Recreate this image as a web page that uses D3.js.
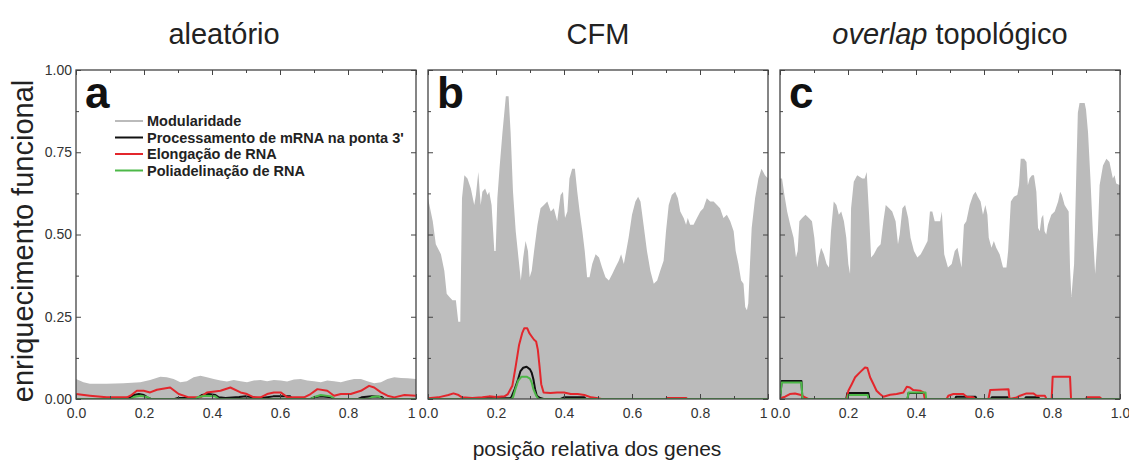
<!DOCTYPE html>
<meta charset="utf-8">
<script src="https://d3js.org/d3.v7.min.js"></script>
<style>
  body { margin: 0; background: #fff; }
  text { font-family: "Liberation Sans", Arial, sans-serif; }
</style>
<div id="chart"></div>
<script>
// values: [posição relativa, enriquecimento]
const panelTitles = ["aleatório", "CFM", "overlap topológico"];
const panelLetters = ["a", "b", "c"];
const seriesNames = ["Modularidade", "Processamento de mRNA na ponta 3'", "Elongação de RNA", "Poliadelinação de RNA"];
const seriesColors = ["#bbbbbb", "#111111", "#e3262c", "#4db848"];
const xMajor = [0, 0.2, 0.4, 0.6, 0.8, 1];
const xMinor = [0.1, 0.3, 0.5, 0.7, 0.9];
const yMajor = [0, 0.25, 0.5, 0.75, 1];
const yMinor = [0.125, 0.375, 0.625, 0.875];

// a - aleatório
const randModularidade = [[0,0.061],[0.022,0.051],[0.041,0.046],[0.09,0.046],[0.14,0.048],[0.189,0.051],[0.218,0.058],[0.248,0.068],[0.267,0.066],[0.287,0.061],[0.307,0.051],[0.326,0.054],[0.346,0.066],[0.366,0.071],[0.385,0.066],[0.405,0.061],[0.425,0.056],[0.444,0.053],[0.464,0.058],[0.484,0.054],[0.503,0.051],[0.523,0.056],[0.543,0.058],[0.562,0.054],[0.582,0.058],[0.602,0.056],[0.621,0.053],[0.641,0.059],[0.661,0.061],[0.68,0.056],[0.7,0.054],[0.72,0.051],[0.739,0.056],[0.759,0.054],[0.779,0.051],[0.798,0.056],[0.818,0.061],[0.838,0.061],[0.857,0.054],[0.877,0.048],[0.897,0.051],[0.916,0.061],[0.936,0.066],[0.956,0.064],[0.975,0.063],[1,0.061]];
const randProcessamento = [[0,0],[0.15,0],[0.16,0.005],[0.17,0.012],[0.185,0.015],[0.2,0.012],[0.21,0.005],[0.22,0],[0.29,0],[0.3,0.003],[0.34,0.003],[0.35,0],[0.36,0.005],[0.37,0.012],[0.39,0.015],[0.41,0.012],[0.42,0.005],[0.44,0.003],[0.48,0.006],[0.5,0.008],[0.52,0.005],[0.54,0.002],[0.58,0.008],[0.63,0.008],[0.635,0],[0.69,0],[0.7,0.005],[0.72,0.008],[0.75,0.005],[0.76,0],[0.83,0],[0.84,0.005],[0.87,0.008],[0.9,0.006],[0.905,0],[1,0]];
const randElongacao = [[0,0.015],[0.041,0.01],[0.09,0.005],[0.15,0.005],[0.16,0.01],[0.179,0.025],[0.199,0.025],[0.218,0.02],[0.238,0.028],[0.277,0.035],[0.302,0.015],[0.332,0.005],[0.366,0.005],[0.385,0.02],[0.425,0.025],[0.454,0.035],[0.484,0.02],[0.503,0.015],[0.523,0.005],[0.543,0.005],[0.562,0.015],[0.582,0.02],[0.602,0.02],[0.622,0.005],[0.671,0.005],[0.69,0.015],[0.71,0.03],[0.739,0.025],[0.759,0.01],[0.779,0.015],[0.808,0.015],[0.838,0.025],[0.862,0.04],[0.877,0.035],[0.897,0.02],[0.916,0.01],[0.936,0.005],[0.966,0.012],[1,0.01]];
const randPoliadenilacao = [[0,0],[0.16,0],[0.17,0.006],[0.19,0.01],[0.21,0.006],[0.22,0],[0.35,0],[0.36,0.006],[0.38,0.01],[0.41,0.008],[0.42,0],[0.69,0],[0.7,0.006],[0.72,0.012],[0.75,0.008],[0.76,0],[0.86,0],[0.87,0.006],[0.89,0.008],[0.9,0],[1,0]];

// b - CFM
const cfmModularidade = [[0,0.61],[0.014,0.54],[0.023,0.47],[0.038,0.44],[0.048,0.39],[0.055,0.32],[0.063,0.31],[0.072,0.3],[0.082,0.3],[0.089,0.235],[0.095,0.235],[0.1,0.61],[0.107,0.68],[0.116,0.67],[0.126,0.64],[0.136,0.59],[0.141,0.62],[0.148,0.69],[0.155,0.59],[0.16,0.63],[0.168,0.64],[0.175,0.62],[0.18,0.63],[0.187,0.59],[0.195,0.45],[0.199,0.45],[0.204,0.61],[0.211,0.71],[0.219,0.81],[0.229,0.92],[0.237,0.92],[0.243,0.81],[0.25,0.63],[0.258,0.51],[0.268,0.41],[0.273,0.36],[0.28,0.43],[0.287,0.48],[0.294,0.45],[0.299,0.37],[0.305,0.39],[0.312,0.45],[0.322,0.53],[0.331,0.58],[0.341,0.59],[0.351,0.6],[0.361,0.57],[0.37,0.58],[0.38,0.54],[0.39,0.62],[0.397,0.63],[0.403,0.55],[0.41,0.57],[0.416,0.67],[0.424,0.7],[0.432,0.7],[0.439,0.63],[0.446,0.57],[0.454,0.51],[0.461,0.45],[0.468,0.37],[0.475,0.37],[0.483,0.41],[0.493,0.44],[0.503,0.43],[0.512,0.4],[0.522,0.37],[0.532,0.36],[0.542,0.38],[0.551,0.4],[0.561,0.42],[0.568,0.44],[0.576,0.41],[0.583,0.45],[0.59,0.49],[0.6,0.56],[0.61,0.6],[0.618,0.615],[0.625,0.6],[0.634,0.53],[0.644,0.45],[0.654,0.39],[0.664,0.35],[0.674,0.36],[0.683,0.39],[0.693,0.42],[0.7,0.51],[0.708,0.59],[0.717,0.62],[0.727,0.63],[0.735,0.61],[0.742,0.57],[0.752,0.55],[0.759,0.53],[0.764,0.55],[0.771,0.53],[0.781,0.53],[0.791,0.55],[0.801,0.57],[0.81,0.58],[0.82,0.61],[0.83,0.6],[0.84,0.6],[0.85,0.59],[0.859,0.58],[0.869,0.55],[0.879,0.56],[0.889,0.54],[0.899,0.51],[0.905,0.45],[0.913,0.41],[0.921,0.36],[0.928,0.35],[0.933,0.28],[0.938,0.27],[0.942,0.29],[0.947,0.41],[0.952,0.52],[0.962,0.61],[0.972,0.67],[0.981,0.7],[0.991,0.68],[1,0.67]];
const cfmProcessamento = [[0,0],[0.15,0],[0.16,0.002],[0.24,0.002],[0.245,0.005],[0.255,0.03],[0.265,0.06],[0.272,0.085],[0.28,0.095],[0.29,0.098],[0.3,0.09],[0.305,0.08],[0.31,0.06],[0.315,0.03],[0.32,0.01],[0.33,0.003],[0.34,0],[0.39,0],[0.4,0.005],[0.46,0.005],[0.465,0],[1,0]];
const cfmElongacao = [[0,0.002],[0.03,0.005],[0.06,0.012],[0.075,0.017],[0.09,0.012],[0.1,0.005],[0.13,0.003],[0.16,0.005],[0.18,0.008],[0.2,0.006],[0.225,0.008],[0.235,0.015],[0.248,0.04],[0.258,0.1],[0.268,0.165],[0.277,0.2],[0.283,0.215],[0.292,0.215],[0.298,0.2],[0.305,0.19],[0.312,0.18],[0.318,0.175],[0.323,0.15],[0.328,0.1],[0.333,0.045],[0.34,0.02],[0.36,0.018],[0.38,0.02],[0.4,0.02],[0.42,0.015],[0.44,0.015],[0.46,0.012],[0.48,0.005],[0.5,0.002],[0.51,0],[0.7,0],[0.702,0.003],[0.76,0.003],[0.762,0],[1,0]];
const cfmPoliadenilacao = [[0,0],[0.245,0],[0.25,0.005],[0.257,0.03],[0.265,0.055],[0.275,0.068],[0.29,0.068],[0.3,0.062],[0.305,0.05],[0.31,0.03],[0.318,0.01],[0.325,0],[1,0]];

// c - overlap topológico
const overlapModularidade = [[0,0.67],[0.006,0.67],[0.013,0.62],[0.021,0.57],[0.03,0.53],[0.04,0.49],[0.047,0.43],[0.052,0.45],[0.057,0.54],[0.065,0.55],[0.075,0.56],[0.085,0.55],[0.094,0.54],[0.101,0.49],[0.107,0.42],[0.11,0.4],[0.114,0.43],[0.121,0.46],[0.129,0.44],[0.137,0.41],[0.144,0.4],[0.15,0.51],[0.158,0.6],[0.166,0.59],[0.173,0.56],[0.18,0.57],[0.188,0.54],[0.195,0.49],[0.201,0.41],[0.206,0.38],[0.209,0.58],[0.217,0.66],[0.227,0.68],[0.242,0.67],[0.249,0.67],[0.255,0.69],[0.262,0.56],[0.268,0.43],[0.276,0.44],[0.286,0.46],[0.296,0.47],[0.304,0.54],[0.311,0.59],[0.321,0.58],[0.33,0.57],[0.34,0.54],[0.347,0.47],[0.352,0.5],[0.36,0.58],[0.368,0.59],[0.377,0.55],[0.384,0.49],[0.394,0.45],[0.404,0.43],[0.414,0.44],[0.424,0.46],[0.434,0.48],[0.441,0.57],[0.448,0.57],[0.455,0.54],[0.463,0.54],[0.471,0.54],[0.476,0.57],[0.483,0.44],[0.494,0.4],[0.505,0.41],[0.514,0.45],[0.522,0.46],[0.528,0.43],[0.534,0.4],[0.541,0.53],[0.548,0.54],[0.558,0.59],[0.568,0.62],[0.575,0.63],[0.582,0.615],[0.59,0.6],[0.597,0.56],[0.604,0.59],[0.61,0.56],[0.614,0.49],[0.622,0.46],[0.629,0.48],[0.636,0.46],[0.646,0.44],[0.656,0.4],[0.666,0.4],[0.671,0.45],[0.679,0.6],[0.688,0.615],[0.698,0.62],[0.703,0.65],[0.708,0.73],[0.718,0.73],[0.725,0.72],[0.729,0.65],[0.734,0.67],[0.741,0.68],[0.747,0.68],[0.754,0.63],[0.759,0.52],[0.764,0.51],[0.769,0.55],[0.774,0.56],[0.778,0.51],[0.783,0.5],[0.788,0.53],[0.798,0.56],[0.808,0.57],[0.818,0.6],[0.824,0.63],[0.829,0.62],[0.837,0.59],[0.843,0.58],[0.849,0.57],[0.853,0.4],[0.857,0.31],[0.865,0.41],[0.872,0.71],[0.876,0.87],[0.881,0.9],[0.896,0.9],[0.9,0.88],[0.906,0.81],[0.913,0.67],[0.92,0.51],[0.927,0.38],[0.935,0.51],[0.94,0.65],[0.95,0.71],[0.96,0.73],[0.969,0.72],[0.979,0.67],[0.984,0.68],[0.989,0.655],[1,0.65]];
const overlapProcessamento = [[0,0],[0.005,0.055],[0.063,0.055],[0.066,0],[0.195,0],[0.198,0.018],[0.26,0.018],[0.263,0],[0.375,0],[0.378,0.018],[0.425,0.018],[0.428,0],[0.515,0],[0.518,0.007],[0.575,0.007],[0.578,0],[0.62,0],[0.623,0.005],[0.67,0.005],[0.673,0],[0.72,0],[0.723,0.005],[0.76,0.005],[0.763,0],[1,0]];
const overlapElongacao = [[0,0.002],[0.015,0.007],[0.029,0.015],[0.044,0.017],[0.059,0.013],[0.074,0.005],[0.083,0],[0.196,0],[0.201,0.025],[0.211,0.045],[0.221,0.066],[0.235,0.081],[0.25,0.096],[0.257,0.094],[0.265,0.066],[0.275,0.045],[0.284,0.025],[0.294,0.015],[0.304,0.007],[0.324,0.013],[0.343,0.015],[0.363,0.02],[0.373,0.037],[0.382,0.035],[0.392,0.027],[0.412,0.025],[0.422,0.02],[0.426,0],[0.49,0],[0.495,0.01],[0.51,0.015],[0.539,0.015],[0.549,0.007],[0.569,0.005],[0.574,0],[0.613,0],[0.618,0.027],[0.672,0.03],[0.675,0],[0.696,0.005],[0.706,0.01],[0.725,0.017],[0.745,0.017],[0.755,0.01],[0.779,0.01],[0.784,0],[0.799,0],[0.802,0.068],[0.853,0.068],[0.856,0],[0.9,0],[0.902,0.005],[0.941,0.005],[0.946,0],[1,0]];
const overlapPoliadenilacao = [[0,0],[0.005,0.05],[0.063,0.05],[0.066,0],[0.198,0],[0.2,0.012],[0.258,0.012],[0.26,0],[0.375,0],[0.378,0.02],[0.428,0.02],[0.43,0],[1,0]];

const panels = [
  { mod: randModularidade, lines: [randProcessamento, randElongacao, randPoliadenilacao], last: "1" },
  { mod: cfmModularidade, lines: [cfmProcessamento, cfmElongacao, cfmPoliadenilacao], last: "1" },
  { mod: overlapModularidade, lines: [overlapProcessamento, overlapElongacao, overlapPoliadenilacao], last: "1.0" }
];

var W = 1129, H = 464,
    plotW = 340, gap = 12, left0 = 76,
    plotTop = 70, plotBottom = 399;

var svg = d3.select("#chart").append("svg")
    .attr("width", W)
    .attr("height", H);

var y = d3.scaleLinear().domain([0, 1]).range([plotBottom, plotTop]);

function styleLabels(sel) {
    sel.selectAll("text").attr("font-size", 14).attr("fill", "#333")
        .style("font-family", "'Liberation Sans', Arial, sans-serif");
}

panels.forEach(function (p, i) {
    var x0 = left0 + i * (plotW + gap);
    var x = d3.scaleLinear().domain([0, 1]).range([x0, x0 + plotW]);

    svg.append("clipPath").attr("id", "clip" + i)
      .append("rect").attr("x", x0).attr("y", plotTop).attr("width", plotW).attr("height", plotBottom - plotTop);

    var g = svg.append("g").attr("clip-path", "url(#clip" + i + ")");

    g.append("path")
        .datum(p.mod)
        .attr("fill", seriesColors[0])
        .attr("d", d3.area().x(d => x(d[0])).y0(y(0)).y1(d => y(d[1])));

    // black, red, then green on top
    p.lines.forEach(function (s, k) {
        g.append("path")
            .datum(s)
            .attr("fill", "none")
            .attr("stroke", seriesColors[k + 1])
            .attr("stroke-width", 2)
            .attr("stroke-linejoin", "round")
            .attr("d", d3.line().x(d => x(d[0])).y(d => y(d[1])));
    });

    // mirrored inward ticks
    var fmt = function (d) { return d === 1 ? p.last : d3.format(".1f")(d); };
    var bx = svg.append("g").attr("transform", "translate(0," + plotBottom + ")")
        .call(d3.axisBottom(x).tickValues(xMajor).tickSize(-5).tickPadding(9).tickFormat(fmt));
    styleLabels(bx);
    if (p.last === "1") bx.selectAll(".tick").filter(d => d === 1).select("text").attr("text-anchor", "end").attr("dx", -1);
    svg.append("g").attr("transform", "translate(0," + plotBottom + ")")
        .call(d3.axisBottom(x).tickValues(xMinor).tickSize(-3).tickFormat(""));
    svg.append("g").attr("transform", "translate(0," + plotTop + ")")
        .call(d3.axisTop(x).tickValues(xMajor).tickSize(-5).tickFormat(""));
    svg.append("g").attr("transform", "translate(0," + plotTop + ")")
        .call(d3.axisTop(x).tickValues(xMinor).tickSize(-3).tickFormat(""));

    var ly = svg.append("g").attr("transform", "translate(" + x0 + ",0)")
        .call(d3.axisLeft(y).tickValues(yMajor).tickSize(-5).tickPadding(4).tickFormat(i === 0 ? d3.format(".2f") : ""));
    styleLabels(ly);
    svg.append("g").attr("transform", "translate(" + x0 + ",0)")
        .call(d3.axisLeft(y).tickValues(yMinor).tickSize(-3).tickFormat(""));
    svg.append("g").attr("transform", "translate(" + (x0 + plotW) + ",0)")
        .call(d3.axisRight(y).tickValues(yMajor).tickSize(-5).tickFormat(""));
    svg.append("g").attr("transform", "translate(" + (x0 + plotW) + ",0)")
        .call(d3.axisRight(y).tickValues(yMinor).tickSize(-3).tickFormat(""));

    svg.selectAll(".domain").remove();
    svg.selectAll(".tick line").attr("stroke", "#444");

    svg.append("rect")
        .attr("x", x0).attr("y", plotTop)
        .attr("width", plotW).attr("height", plotBottom - plotTop)
        .attr("fill", "none").attr("stroke", "#444").attr("stroke-width", 1.3);

    svg.append("text")
        .attr("x", x0 + 9).attr("y", 108)
        .attr("font-size", 44).attr("font-weight", "bold").attr("fill", "#111")
        .text(panelLetters[i]);

    // panel title
    var t = svg.append("text")
        .attr("x", i === 0 ? 224 : x0 + plotW / 2).attr("y", 44)
        .attr("text-anchor", "middle").attr("font-size", 29).attr("fill", "#222");
    if (i === 2) {
        t.append("tspan").attr("font-style", "italic").text("overlap");
        t.append("tspan").text(" topológico");
    } else {
        t.text(panelTitles[i]);
    }
});

// legend in panel a
var leg = svg.append("g");
seriesNames.forEach(function (name, k) {
    var ly = 121 + k * 16.5;
    leg.append("line")
        .attr("x1", 115).attr("x2", 143).attr("y1", ly).attr("y2", ly)
        .attr("stroke", seriesColors[k]).attr("stroke-width", 2);
    leg.append("text")
        .attr("x", 147).attr("y", ly + 5)
        .attr("font-size", 14.5).attr("font-weight", "bold").attr("fill", "#222")
        .text(name);
});

svg.append("text")
    .attr("x", 597).attr("y", 456)
    .attr("text-anchor", "middle").attr("font-size", 21).attr("fill", "#222")
    .text("posição relativa dos genes");

svg.append("text")
    .attr("transform", "translate(33,241)rotate(-90)")
    .attr("text-anchor", "middle").attr("font-size", 29).attr("fill", "#222")
    .text("enriquecimento funcional");
</script>
